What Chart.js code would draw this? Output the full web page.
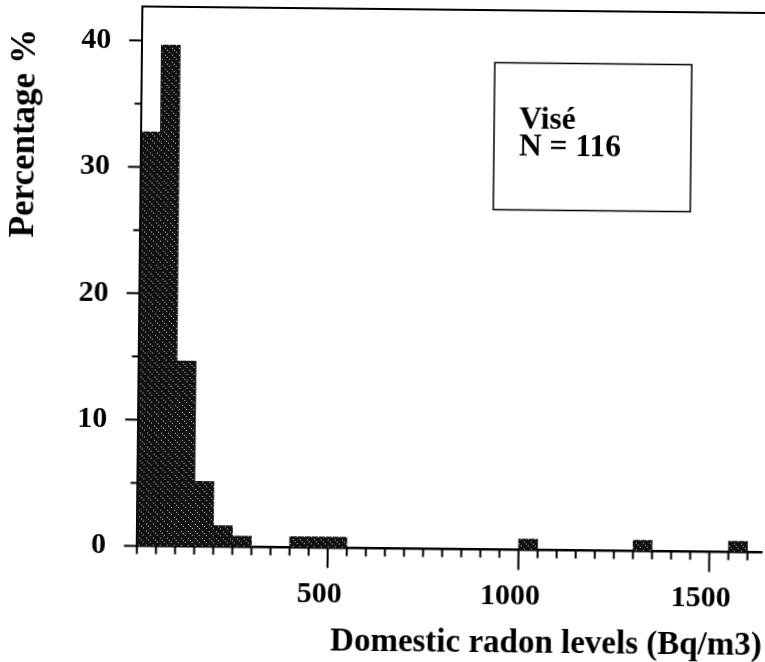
<!DOCTYPE html>
<html>
<head>
<meta charset="utf-8">
<script src="https://cdn.jsdelivr.net/npm/chart.js@4.4.1/dist/chart.umd.min.js"></script>
<style>
  html, body { margin: 0; padding: 0; background: #fff; overflow: hidden; }
  #wrap { width: 765px; height: 662px; }
  /* the printed page sits slightly skewed */
  #radonChart { transform: rotate(0.6deg); }
</style>
</head>
<body>
<div id="wrap"><canvas id="radonChart" width="765" height="662"></canvas></div>
<script>
// histogram bins, 50 Bq/m3 wide (only the non-empty ones)
var binCenters = [25, 75, 125, 175, 225, 275, 425, 475, 525, 1025, 1325, 1575];
var percentages = [32.8, 39.7, 14.7, 5.2, 1.7, 0.9, 0.9, 0.9, 0.9, 0.9, 0.9, 0.9];

var xTickLabels = [500, 1000, 1500];
var yTickLabels = [0, 10, 20, 30, 40];
var boxLines = ["Visé", "N = 116"];

var serif = "'Liberation Serif', 'Times New Roman', serif";
Chart.defaults.font.family = serif;
Chart.defaults.color = "#000";

var canvas = document.getElementById("radonChart");
var ctx = canvas.getContext("2d");

// dark fill with dotted diagonal hatching
function hatch() {
  var tile = document.createElement("canvas");
  tile.width = 7;
  tile.height = 7;
  var g = tile.getContext("2d");
  g.fillStyle = "#111";
  g.fillRect(0, 0, 7, 7);
  g.fillStyle = "#c4c4c4";
  [1, 3, 5].forEach(function (i) {
    g.fillRect(i, i, 1, 1);
  });
  return ctx.createPattern(tile, "repeat");
}

// keep the plot area exactly where the frame should be
function noPadding(s) {
  s.paddingTop = 0;
  s.paddingBottom = 0;
  s.paddingLeft = 0;
  s.paddingRight = 0;
}

//frame, ticks, box and y title
var extras = {
  id: "extras",
  afterDraw: function (chart) {
    var c = chart.ctx;
    var area = chart.chartArea;
    var xs = chart.scales.x;
    var ys = chart.scales.y;
    c.save();
    c.strokeStyle = "#000";
    c.lineWidth = 2;

    c.beginPath();
    c.moveTo(area.left - 1, area.top);
    c.lineTo(area.right, area.top);
    c.stroke();

    c.beginPath();
    ys.ticks.forEach(function (t) {
      if (t.value % 5 !== 0) return;
      var py = ys.getPixelForValue(t.value);
      var len = t.value % 10 === 0 ? 13 : 7;
      c.moveTo(area.left - len, py);
      c.lineTo(area.left, py);
    });
    xs.ticks.forEach(function (t) {
      if (t.value % 50 !== 0) return;
      var px = xs.getPixelForValue(t.value);
      var len = t.value % 500 === 0 && t.value > 0 ? 20 : 8;
      c.moveTo(px, area.bottom);
      c.lineTo(px, area.bottom + len);
    });
    c.stroke();

    // site box
    c.lineWidth = 1.5;
    c.strokeRect(492, 61.5, 197, 147);
    c.fillStyle = "#000";
    c.font = "bold 31.5px " + serif;
    c.textAlign = "left";
    c.textBaseline = "alphabetic";
    c.fillText(boxLines[0], 517, 127);
    c.fillText(boxLines[1], 517, 154);

    c.translate(23, 137);
    c.rotate(-Math.PI / 2);
    c.font = "bold 35px " + serif;
    c.textAlign = "center";
    c.textBaseline = "middle";
    c.fillText("Percentage %", 0, 0);
    c.restore();
  }
};

var radonChart = new Chart(ctx, {
  type: "bar",
  data: {
    datasets: [
      {
        data: binCenters.map(function (x, i) {
          return { x: x, y: percentages[i] };
        }),
        backgroundColor: hatch(),
        borderWidth: 0,
        barPercentage: 1.03,
        categoryPercentage: 1
      }
    ]
  },
  options: {
    responsive: false,
    animation: false,
    layout: { padding: { top: 9, left: 0, right: 0, bottom: 0 } },
    plugins: {
      legend: { display: false },
      tooltip: { enabled: false }
    },
    scales: {
      x: {
        type: "linear",
        min: 0,
        max: 1640,
        offset: false,
        afterFit: function (s) {
          s.height = 113.4;
          noPadding(s);
        },
        grid: { display: false, drawTicks: false },
        border: { display: true, color: "#000", width: 2.5 },
        ticks: {
          stepSize: 50,
          autoSkip: false,
          includeBounds: false,
          maxRotation: 0,
          padding: 29,
          labelOffset: -8,
          font: { size: 30, weight: "bold" },
          callback: function (v) {
            return xTickLabels.indexOf(v) >= 0 ? String(v) : "";
          }
        },
        title: {
          display: true,
          text: "Domestic radon levels (Bq/m3)",
          align: "end",
          font: { size: 33, weight: "bold" },
          padding: { top: 0, bottom: 0 }
        }
      },
      y: {
        min: 0,
        max: 42.7,
        afterFit: function (s) {
          s.width = 139.2;
          noPadding(s);
        },
        grid: { display: false, drawTicks: false },
        border: { display: true, color: "#000", width: 2 },
        ticks: {
          stepSize: 5,
          includeBounds: false,
          padding: 31,
          font: { size: 30, weight: "bold" },
          callback: function (v) {
            return yTickLabels.indexOf(v) >= 0 ? String(v) : "";
          }
        }
      }
    }
  },
  plugins: [extras]
});
</script>
</body>
</html>
